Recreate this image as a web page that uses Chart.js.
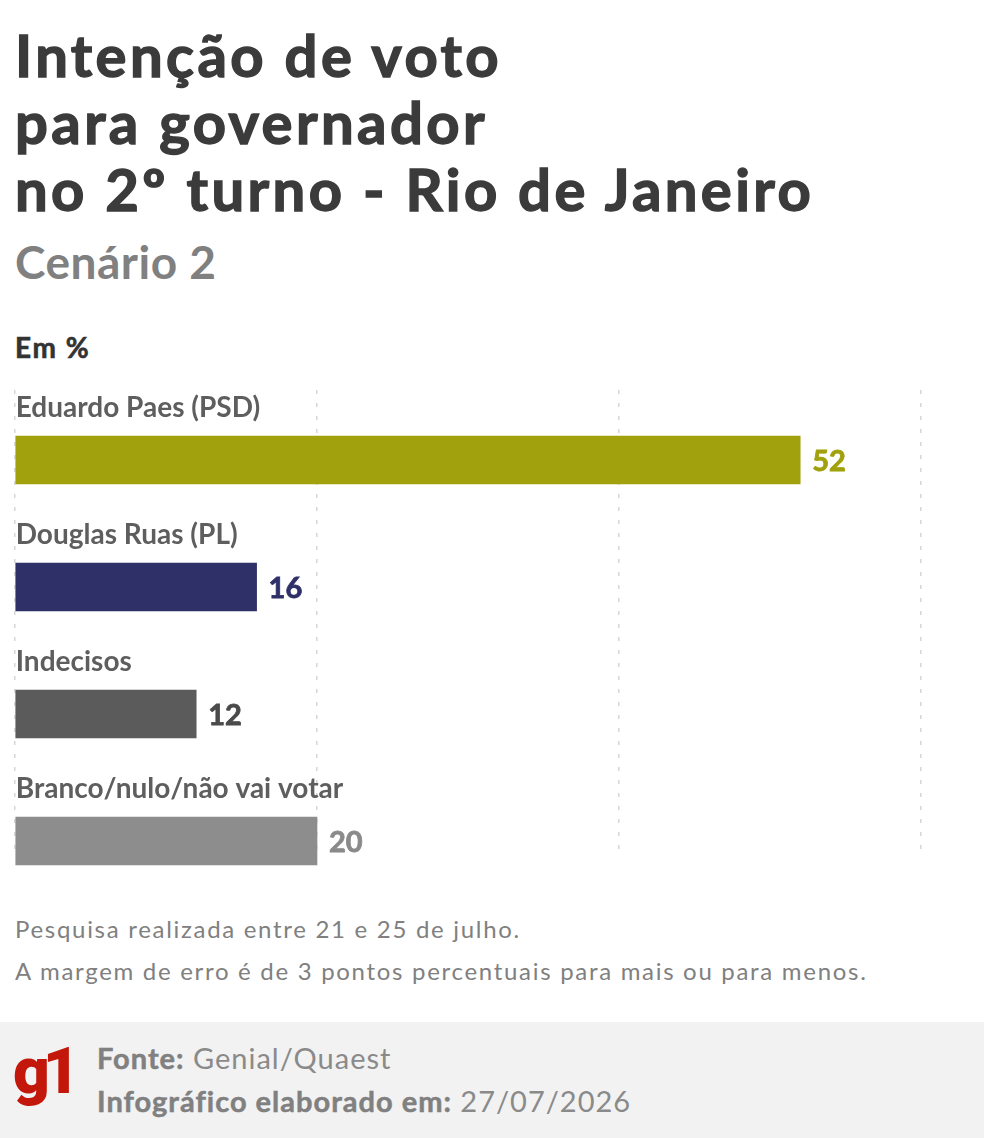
<!DOCTYPE html>
<html lang="pt-BR">
<head>
<meta charset="utf-8">
<script src="https://cdn.jsdelivr.net/npm/chart.js@4/dist/chart.umd.min.js"></script>
<style>
  body { margin: 0; width: 984px; height: 1138px; background: #fff; position: relative; overflow: hidden; font-family: Lato, "Open Sans", sans-serif; }
  .title { position: absolute; left: 15px; top: 21px; font-size: 58px; line-height: 67px; font-weight: 700; color: #3b3b3b; letter-spacing: 3.4px; -webkit-text-stroke: 1.4px #3b3b3b; }
  .subtitle { position: absolute; left: 15px; top: 235px; font-size: 46px; line-height: 54px; font-weight: 700; color: #808080; letter-spacing: 0.5px; }
  .unit { position: absolute; left: 15px; top: 330px; font-size: 28px; line-height: 34px; font-weight: 700; color: #333; letter-spacing: 1.6px; -webkit-text-stroke: 0.6px #333; }
  #wrap { position: absolute; left: 0; top: 380px; width: 984px; height: 500px; }
  .note { position: absolute; left: 15px; font-size: 24px; line-height: 30px; color: #808080; letter-spacing: 1.7px; }
  .footer { position: absolute; left: 0; top: 1022px; width: 984px; height: 116px; background: #f2f2f2; }
  .logo { position: absolute; left: 13px; top: 12px; font-family: Roboto, sans-serif; font-size: 64px; line-height: 76px; font-weight: 900; color: #c4170c; letter-spacing: -7px; }
  .src { position: absolute; left: 97px; font-size: 29px; line-height: 34px; color: #8a8a8a; letter-spacing: 1px; }
  .src b { font-weight: 700; color: #808080; -webkit-text-stroke: 0.5px #808080; }
</style>
</head>
<body>
<div class="title">Intenção de voto<br>para governador<br>no 2º turno - Rio de Janeiro</div>
<div class="subtitle">Cenário 2</div>
<div class="unit">Em %</div>
<div id="wrap"><canvas id="chart"></canvas></div>
<div class="note" style="top:914px">Pesquisa realizada entre 21 e 25 de julho.</div>
<div class="note" style="top:956px">A margem de erro é de 3 pontos percentuais para mais ou para menos.</div>
<div class="footer">
  <div class="logo">g1</div>
  <div class="src" style="top:19px"><b>Fonte:</b> Genial/Quaest</div>
  <div class="src" style="top:62px"><b>Infográfico elaborado em:</b> 27/07/2026</div>
</div>
<script>
const categories = ["Eduardo Paes (PSD)", "Douglas Ruas (PL)", "Indecisos", "Branco/nulo/não vai votar"]
const values = [52, 16, 12, 20]
const barColors = ["#a0a10c", "#2f3068", "#5b5b5b", "#8d8d8d"]
const valueColors = ["#a0a10c", "#2f3068", "#4a4a4a", "#8a8a8a"]
const xTicks = [0, 20, 40, 60]

// category names above each bar, value to the right of it
const barLabels = {
  id: "barLabels",
  afterDatasetsDraw(chart) {
    const { ctx } = chart
    const meta = chart.getDatasetMeta(0)
    ctx.save()
    ctx.textAlign = "left"
    ctx.textBaseline = "alphabetic"
    meta.data.forEach((bar, i) => {
      ctx.font = "bold 28px Lato"
      ctx.fillStyle = "#5e5e5e"
      ctx.fillText(categories[i], bar.base, bar.y - 43)
      ctx.font = "bold 29px Lato"
      ctx.fillStyle = valueColors[i]
      ctx.lineWidth = 0.8
      ctx.strokeStyle = valueColors[i]
      ctx.fillText(String(values[i]), bar.x + 12, bar.y + 11)
      ctx.strokeText(String(values[i]), bar.x + 12, bar.y + 11)
    })
    ctx.restore()
  }
}

new Chart(document.getElementById("chart"), {
  type: "bar",
  data: {
    datasets: [{
      data: values.map((v, i) => ({ x: v, y: i })),
      backgroundColor: barColors,
      borderWidth: 0,
      barThickness: 48,
      clip: false
    }]
  },
  options: {
    indexAxis: "y",
    responsive: true,
    maintainAspectRatio: false,
    animation: false,
    layout: { padding: { left: 15, right: 63, top: 10, bottom: 23 } },
    plugins: { legend: { display: false }, tooltip: { enabled: false } },
    scales: {
      x: {
        type: "linear",
        min: 0,
        max: 60,
        afterBuildTicks: (axis) => { axis.ticks = xTicks.map(v => ({ value: v })) },
        ticks: { display: false, padding: 0 },
        grid: { color: "#d6d6d6", lineWidth: 1.5, drawTicks: false, tickLength: 0 },
        border: { display: false, dash: [4, 9] }
      },
      y: {
        type: "linear",
        display: false,
        offset: false,
        reverse: true,
        min: -0.551,
        max: 3.126
      }
    }
  },
  plugins: [barLabels]
})
</script>
</body>
</html>
